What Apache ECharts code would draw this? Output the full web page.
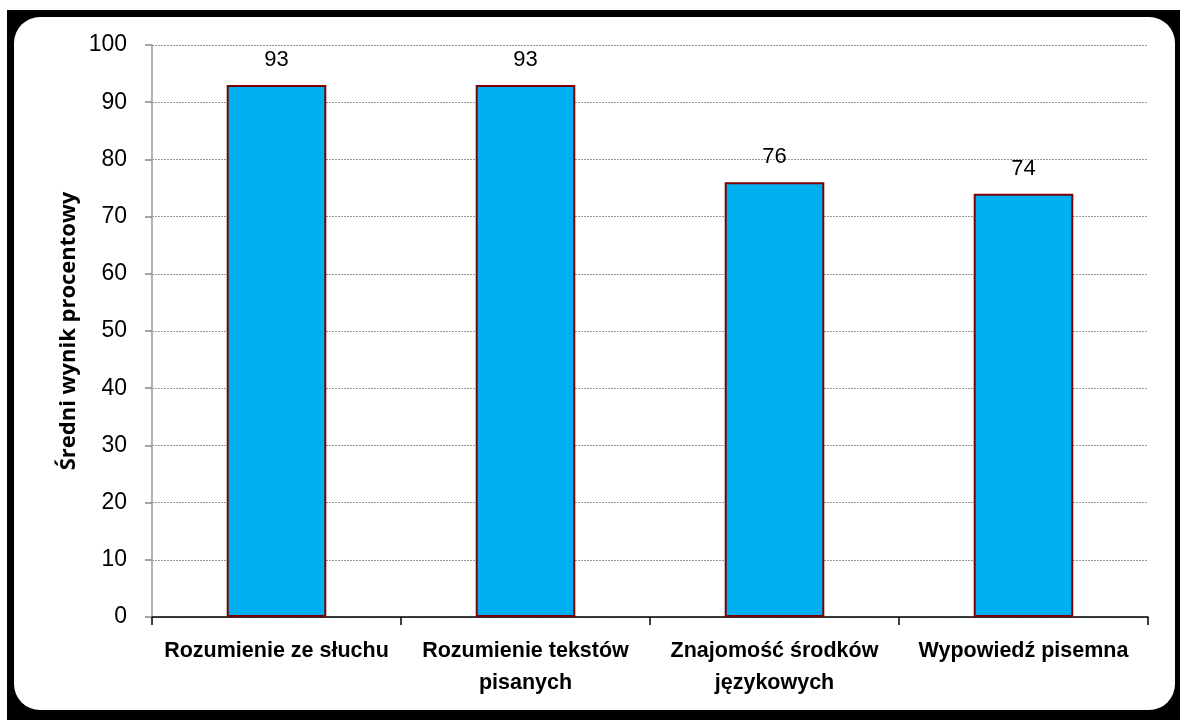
<!DOCTYPE html>
<html>
<head>
<meta charset="UTF-8">
<title>Średni wynik procentowy</title>
<script src="https://cdn.jsdelivr.net/npm/echarts@6/dist/echarts.min.js"></script>
<style>
	html, body { margin: 0; padding: 0; background: #fff; }
	#main { width: 1180px; height: 720px; }
</style>
</head>
<body>
	<div id="main"></div>
	<script>
	// dane wykresu
	var categories = ['Rozumienie ze słuchu', 'Rozumienie tekstów\npisanych', 'Znajomość środków\njęzykowych', 'Wypowiedź pisemna'];
	var scores = [93, 93, 76, 74];
	var yTicks = [0, 10, 20, 30, 40, 50, 60, 70, 80, 90, 100];

	var chart = echarts.init(document.getElementById('main'));

	var option = {
		backgroundColor: '#fff',
		animation: false,
		graphic: [
			{ type: 'rect', z: -10, shape: { x: 7, y: 10, width: 1173, height: 710 }, style: { fill: '#000' } },
			{ type: 'rect', z: -9, shape: { x: 14, y: 17, width: 1161, height: 693, r: 26 }, style: { fill: '#fff' } }
		],
		grid: {
			left: 152,
			right: 32,
			top: 45,
			bottom: 103
		},
		xAxis: {
			type: 'category',
			data: categories,
			axisLine: { lineStyle: { color: '#000', width: 1.5 } },
			axisTick: { show: true, length: 8, lineStyle: { color: '#000', width: 1.5 } },
			axisLabel: {
				margin: 18,
				interval: 0,
				color: '#000',
				fontSize: 21.5,
				fontWeight: 'bold',
				fontFamily: '"Liberation Sans Narrow", "Arial Narrow", "Liberation Sans", Arial, sans-serif',
				lineHeight: 32
			}
		},
		yAxis: {
			type: 'value',
			min: yTicks[0],
			max: yTicks[yTicks.length - 1],
			interval: 10,
			name: 'Średni wynik procentowy',
			nameLocation: 'middle',
			nameGap: 72,
			nameMoveOverlap: false,
			nameTextStyle: {
				color: '#000',
				fontSize: 22,
				fontWeight: 'bold',
				fontFamily: '"Open Sans", "Noto Sans", sans-serif'
			},
			axisLine: { show: true, lineStyle: { color: '#999', width: 1.5 } },
			axisTick: { show: true, length: 7, lineStyle: { color: '#888', width: 1.5 } },
			axisLabel: {
				color: '#000',
				fontSize: 23,
				margin: 25,
				fontFamily: '"Liberation Sans", Arial, sans-serif'
			},
			splitLine: { lineStyle: { color: '#999', type: [2, 1], width: 1 } }
		},
		series: [
			{
				name: 'Średni wynik procentowy',
				type: 'bar',
				data: scores,
				barWidth: '40%',
				itemStyle: {
					color: '#00B0F0',
					borderColor: '#7F0000',
					borderWidth: 2
				},
				label: {
					show: true,
					position: 'top',
					distance: 14,
					color: '#000',
					fontSize: 22,
					fontFamily: '"Liberation Sans Narrow", "Arial Narrow", "Liberation Sans", Arial, sans-serif'
				}
			}
		]
	};

	chart.setOption(option);
	</script>
</body>
</html>
